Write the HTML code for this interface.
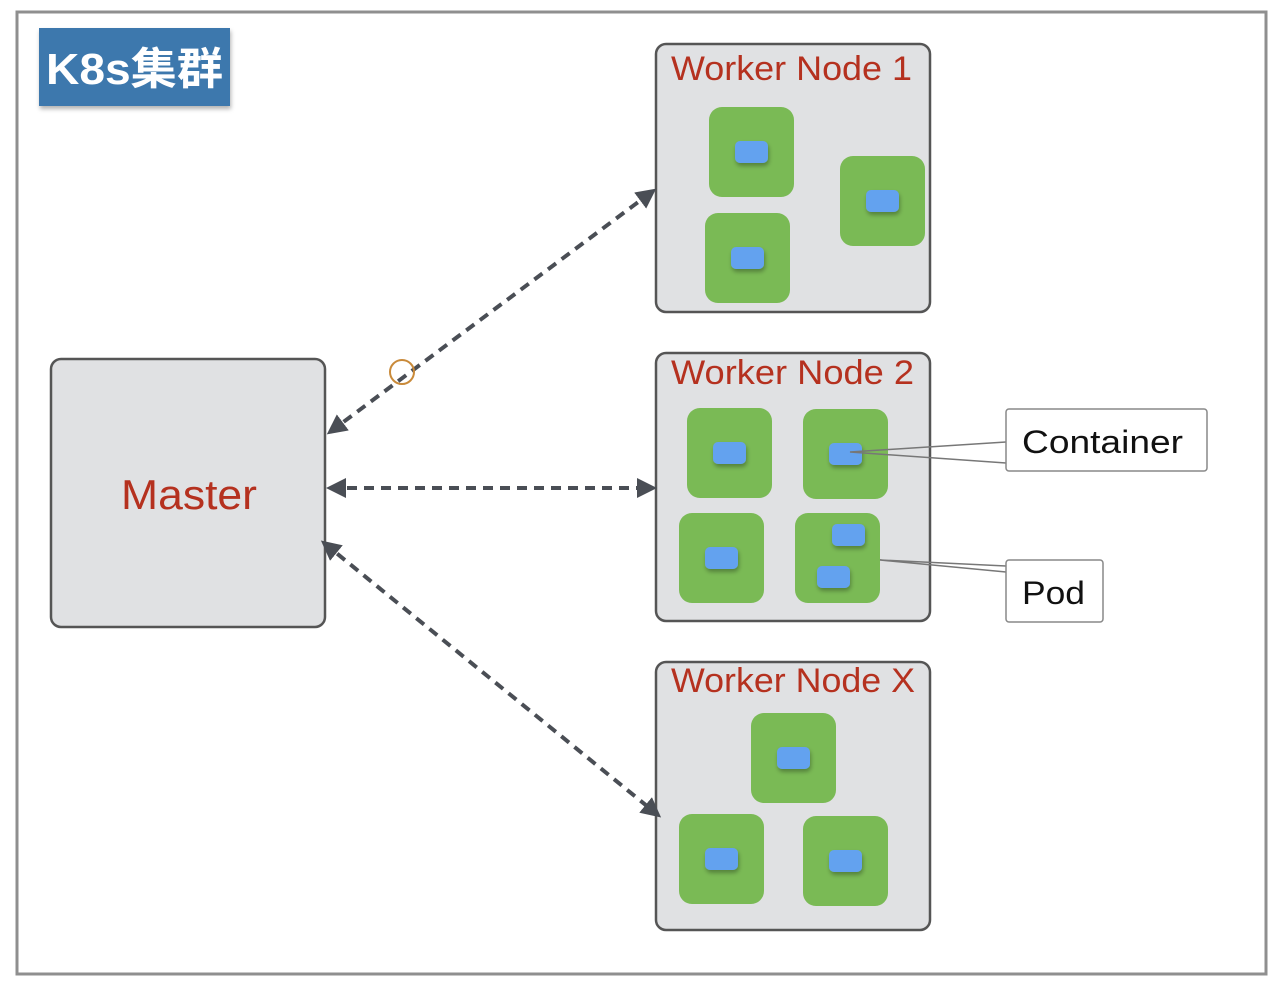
<!DOCTYPE html>
<html><head><meta charset="utf-8"><style>
html,body{margin:0;padding:0;background:#fff;}
svg{display:block;}
text{font-family:"Liberation Sans","Noto Sans CJK SC",sans-serif;}
</style></head><body>
<svg width="1276" height="994" viewBox="0 0 1276 994" xmlns="http://www.w3.org/2000/svg">
<defs>
<marker id="ah" viewBox="0 0 10 10" refX="8" refY="5" markerWidth="5" markerHeight="5" orient="auto-start-reverse">
<path d="M0,0 L10,5 L0,10 z" fill="#4a4e55"/>
</marker>
<filter id="sh" x="-20%" y="-20%" width="150%" height="150%"><feDropShadow dx="1" dy="3" stdDeviation="2" flood-color="#000" flood-opacity="0.3"/></filter>
</defs>
<rect x="17" y="12" width="1249" height="962" fill="#fff" stroke="#8f8f8f" stroke-width="3"/>
<rect x="39" y="28" width="191" height="78" fill="#3d78ad" filter="url(#sh)"/>
<text x="46" y="84" font-size="44" font-weight="bold" fill="#fff" textLength="177" lengthAdjust="spacingAndGlyphs">K8s集群</text>

<rect x="51" y="359" width="274" height="268" rx="10" fill="#e0e1e3" stroke="#555" stroke-width="2.5"/>
<text x="121" y="509" font-size="42" fill="#b5311f" textLength="136" lengthAdjust="spacingAndGlyphs">Master</text>

<g fill="#e0e1e3" stroke="#555" stroke-width="2.5">
<rect x="656" y="44" width="274" height="268" rx="10"/>
<rect x="656" y="353" width="274" height="268" rx="10"/>
<rect x="656" y="662" width="274" height="268" rx="10"/>
</g>
<g font-size="34" fill="#b5311f">
<text x="671" y="80" textLength="241" lengthAdjust="spacingAndGlyphs">Worker Node 1</text>
<text x="671" y="384" textLength="243" lengthAdjust="spacingAndGlyphs">Worker Node 2</text>
<text x="671" y="692" textLength="244" lengthAdjust="spacingAndGlyphs">Worker Node X</text>
</g>
<g fill="#7aba55">
<rect x="709" y="107" width="85" height="90" rx="13"/>
<rect x="705" y="213" width="85" height="90" rx="13"/>
<rect x="840" y="156" width="85" height="90" rx="13"/>
<rect x="687" y="408" width="85" height="90" rx="13"/>
<rect x="803" y="409" width="85" height="90" rx="13"/>
<rect x="679" y="513" width="85" height="90" rx="13"/>
<rect x="795" y="513" width="85" height="90" rx="13"/>
<rect x="751" y="713" width="85" height="90" rx="13"/>
<rect x="679" y="814" width="85" height="90" rx="13"/>
<rect x="803" y="816" width="85" height="90" rx="13"/>
</g>
<g fill="#64a2ef" filter="url(#sh)">
<rect x="735" y="141" width="33" height="22" rx="5"/>
<rect x="731" y="247" width="33" height="22" rx="5"/>
<rect x="866" y="190" width="33" height="22" rx="5"/>
<rect x="713" y="442" width="33" height="22" rx="5"/>
<rect x="829" y="443" width="33" height="22" rx="5"/>
<rect x="705" y="547" width="33" height="22" rx="5"/>
<rect x="832" y="524" width="33" height="22" rx="5"/>
<rect x="817" y="566" width="33" height="22" rx="5"/>
<rect x="777" y="747" width="33" height="22" rx="5"/>
<rect x="705" y="848" width="33" height="22" rx="5"/>
<rect x="829" y="850" width="33" height="22" rx="5"/>
</g>

<g stroke="#777" stroke-width="1.5" fill="none">
<path d="M1006,442 L850,452 L1006,463"/>
<path d="M1006,566 L880,560 L1006,572"/>
</g>
<rect x="1006" y="409" width="201" height="62" rx="3" fill="#fff" stroke="#888" stroke-width="1.5"/>
<text x="1022" y="453" font-size="32" fill="#111" textLength="161" lengthAdjust="spacingAndGlyphs">Container</text>
<rect x="1006" y="560" width="97" height="62" rx="3" fill="#fff" stroke="#888" stroke-width="1.5"/>
<text x="1022" y="604" font-size="32" fill="#111" textLength="63" lengthAdjust="spacingAndGlyphs">Pod</text>

<g stroke="#4a4e55" stroke-width="4" stroke-dasharray="10 7" fill="none" marker-start="url(#ah)" marker-end="url(#ah)">
<line x1="330" y1="432" x2="653" y2="191"/>
<line x1="330" y1="488" x2="653" y2="488"/>
<line x1="324" y1="543" x2="658" y2="815"/>
</g>
<circle cx="402" cy="372" r="12" fill="none" stroke="#c98a3a" stroke-width="2"/>
</svg>
</body></html>
